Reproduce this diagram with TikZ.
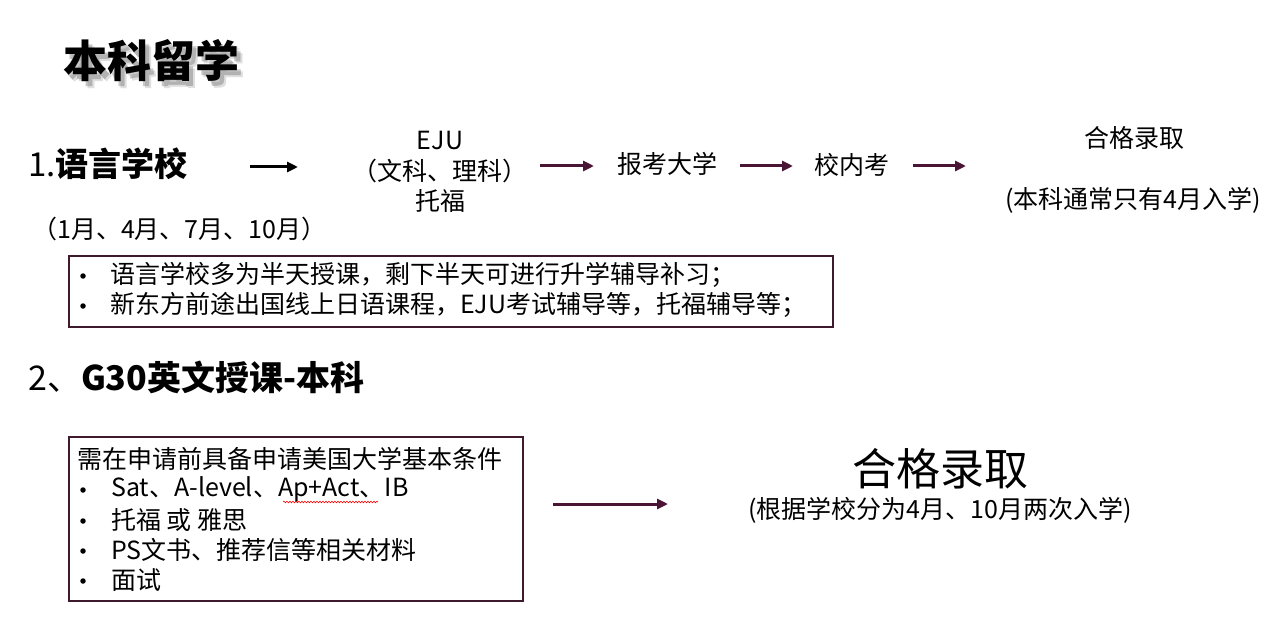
\documentclass[tikz,border=0pt]{standalone}
\usepackage{fontspec}
\setmainfont{Noto Sans CJK SC}
\usetikzlibrary{arrows.meta,decorations.pathmorphing}
\definecolor{plum}{HTML}{4A1535}
\definecolor{boxline}{HTML}{3E1A2C}
\tikzset{
  txt/.style={inner sep=0pt, font=\fontsize{25}{30}\selectfont},
  big/.style={inner sep=0pt, font=\fontsize{33}{38}\selectfont\bfseries},
  huge/.style={inner sep=0pt, font=\fontsize{44}{50}\selectfont},
  flow/.style={line width=3pt, draw=plum, -{Triangle[length=11pt,width=10pt]}},
  blackflow/.style={line width=3pt, draw=black, -{Triangle[length=11pt,width=10pt]}},
  infobox/.style={draw=boxline, line width=1.2pt, inner sep=0pt},
  dot/.style={circle, fill=black, inner sep=0pt, minimum size=5.5pt},
}
\begin{document}
\begin{tikzpicture}[x=1pt,y=-1pt]
\useasboundingbox (0,0) rectangle (1285,631);
% title with soft shadow
\foreach \dx/\dy/\op in {6/7/0.18,4/5/0.3}{
  \node[huge, text=black!70, opacity=\op, font=\fontsize{44}{50}\selectfont\bfseries] at (151+\dx,61+\dy) {本科留学};
}
\node[huge, font=\fontsize{44}{50}\selectfont\bfseries] (title) at (151,61) {本科留学};

% section 1
\node[big, anchor=west] (s1) at (28,164) {\mdseries 1.\bfseries 语言学校};
\node[txt, anchor=west] (months) at (32,229) {（1月、4月、7月、10月）};
\coordinate (a1s) at (250,167);
\coordinate (a1e) at (298,167);
\draw[blackflow] (a1s) -- (a1e);
\node[txt, align=center, font=\fontsize{25}{30.5}\selectfont] (eju) at (440,172) {EJU\\（文科、理科）\\托福};
\node[txt] (apply) at (667,164) {报考大学};
\node[txt] (exam) at (852,165) {校内考};
\node[txt] (pass1) at (1134,138) {合格录取};
\node[txt] (note1) at (1133,200) {(本科通常只有4月入学)};
\coordinate (a2s) at (540,166);
\coordinate (a2e) at (594,166);
\coordinate (a3s) at (740,166);
\coordinate (a3e) at (793,166);
\coordinate (a4s) at (913,166);
\coordinate (a4e) at (966,166);
\draw[flow] (a2s) -- (a2e);
\draw[flow] (a3s) -- (a3e);
\draw[flow] (a4s) -- (a4e);

% box 1
\draw[infobox] (69,256) rectangle (833,327);
\node[dot] (b1a) at (83,276) {};
\node[txt, anchor=west] (t1a) at (110,275) {语言学校多为半天授课，剩下半天可进行升学辅导补习；};
\node[dot] (b1b) at (83,306) {};
\node[txt, anchor=west] (t1b) at (110,305) {新东方前途出国线上日语课程，EJU考试辅导等，托福辅导等；};

% section 2
\node[big, anchor=west, font=\fontsize{34}{38}\selectfont\bfseries] (s2) at (28,377) {\mdseries 2、\bfseries G30英文授课-本科};
\draw[infobox] (69,437) rectangle (523,601);
\node[txt, anchor=west] (l0) at (77,459) {需在申请前具备申请美国大学基本条件};
\foreach \yy/\itm [count=\i] in {489/{Sat、A-level、Ap+Act、IB},520/{托福 或 雅思},550/{PS文书、推荐信等相关材料},580/{面试}}{
  \node[dot] (bb\i) at (83,\yy+1) {};
  \node[txt, anchor=west] (tt\i) at (111,\yy) {\itm};
}
\draw[red, line width=0.6pt, decorate, decoration={snake, amplitude=0.8pt, segment length=3pt}] (283,502) -- (378,502);
\coordinate (a5s) at (553,504);
\coordinate (a5e) at (668,504);
\draw[flow] (a5s) -- (a5e);
\node[huge] (pass2) at (940,469) {合格录取};
\node[txt] (note2) at (940,510) {(根据学校分为4月、10月两次入学)};
\end{tikzpicture}
\end{document}
